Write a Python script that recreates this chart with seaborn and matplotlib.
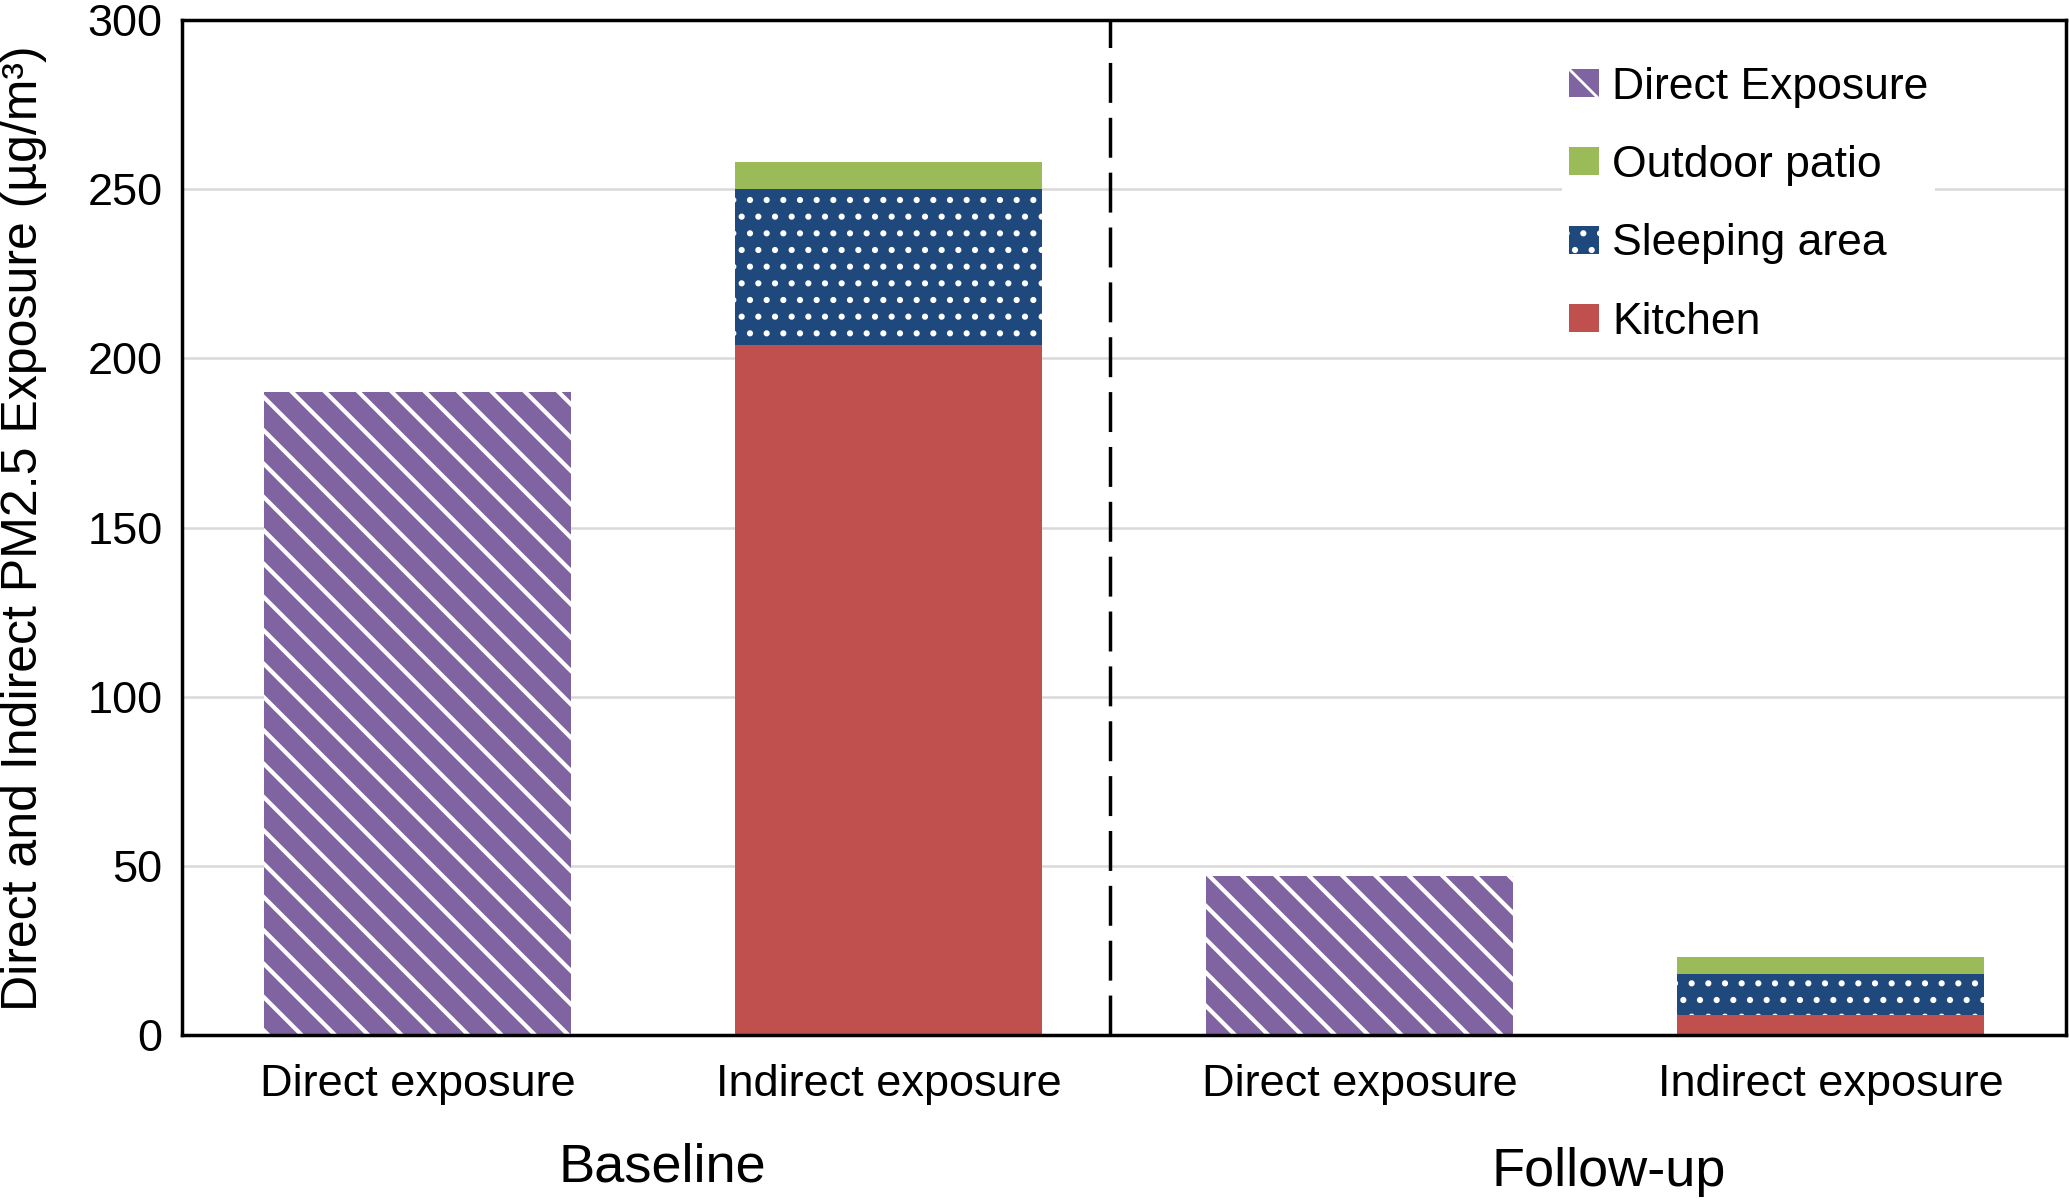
import pandas as pd
import matplotlib
matplotlib.use("Agg")
import matplotlib.pyplot as plt
import matplotlib.patches as mpatches
import seaborn as sns

# ---------------------------------------------------------------
# data (ug/m3)
bar_keys = ["base_direct", "base_indirect", "fu_direct", "fu_indirect"]
tick_labels = ["Direct exposure", "Indirect exposure", "Direct exposure", "Indirect exposure"]
group_labels = ["Baseline", "Follow-up"]

direct_keys = ["base_direct", "fu_direct"]
direct_values = [190, 47]

indirect_keys = ["base_indirect", "fu_indirect"]
kitchen = [204, 6]
sleeping_area = [46, 12]
outdoor_patio = [8, 5]

legend_labels = ["Direct Exposure", "Outdoor patio", "Sleeping area", "Kitchen"]

PURPLE = "#8064a2"
GREEN = "#9bbb59"
BLUE = "#1f497d"
RED = "#c0504d"

# ---------------------------------------------------------------
sns.set_style("white")
plt.rcParams["font.family"] = ["Liberation Sans", "DejaVu Sans"]
plt.rcParams["hatch.linewidth"] = 2.0
for key in ["text.color", "axes.labelcolor", "xtick.color", "ytick.color"]:
    plt.rcParams[key] = "black"

fig = plt.figure(figsize=(20.7, 12.03), dpi=100)
ax = fig.add_axes([182 / 2070, 1 - 1035 / 1203, 1884 / 2070, (1035 - 20) / 1203])

direct_df = pd.DataFrame({"bar": direct_keys, "value": direct_values})
stack_df = pd.DataFrame({
    "bar": indirect_keys,
    "top": [k + s + o for k, s, o in zip(kitchen, sleeping_area, outdoor_patio)],
    "mid": [k + s for k, s in zip(kitchen, sleeping_area)],
    "low": kitchen,
})

common = dict(order=bar_keys, width=0.65, saturation=1, errorbar=None, ax=ax)

# direct exposure bars (hatched)
sns.barplot(data=direct_df, x="bar", y="value", color=PURPLE,
            hatch="\\", edgecolor="white", linewidth=0, **common)
# thicker white diagonals for the direct bars
for p in ax.containers[0]:
    if hasattr(p, "set_hatch_linewidth"):
        p.set_hatch_linewidth(3.0)

# indirect exposure: stacked by drawing cumulative totals, largest first
sns.barplot(data=stack_df, x="bar", y="top", color=GREEN, linewidth=0, **common)
sns.barplot(data=stack_df, x="bar", y="mid", color=BLUE,
            hatch=".", edgecolor="white", linewidth=0, **common)
sns.barplot(data=stack_df, x="bar", y="low", color=RED, linewidth=0, **common)

ax.set_xlim(-0.5, 3.5)
ax.set_ylim(0, 300)
ax.set_yticks(range(0, 301, 50))
ax.set_xticks(range(len(bar_keys)))
ax.set_xticklabels(tick_labels)
ax.set_xlabel("")
ax.set_ylabel("")
ax.tick_params(axis="x", length=0, pad=21, labelsize=32.5)
ax.tick_params(axis="y", length=0, pad=14, labelsize=32.5)

ax.set_axisbelow(True)
ax.yaxis.grid(True, color="#d9d9d9", linewidth=1.8)
for sp in ax.spines.values():
    sp.set_visible(True)
    sp.set_color("black")
    sp.set_linewidth(2.5)

# separator between baseline and follow-up
ax.axvline(1.47, color="black", linewidth=2.5, dashes=(11.5, 4.3))

# group labels
trans = ax.get_xaxis_transform()
ax.text(0.52, -0.131, group_labels[0], transform=trans, ha="center", va="center", fontsize=39)
ax.text(2.53, -0.135, group_labels[1], transform=trans, ha="center", va="center", fontsize=39)

fig.text(24 / 2070, 1 - 528 / 1203, "Direct and Indirect PM2.5 Exposure (µg/m³)",
         rotation=90, ha="center", va="center", fontsize=36)

# legend
handles = [
    mpatches.Patch(facecolor=PURPLE, hatch="\\", edgecolor="white", linewidth=0),
    mpatches.Patch(facecolor=GREEN, linewidth=0),
    mpatches.Patch(facecolor=BLUE, hatch=".", edgecolor="white", linewidth=0),
    mpatches.Patch(facecolor=RED, linewidth=0),
]
if hasattr(handles[0], "set_hatch_linewidth"):
    handles[0].set_hatch_linewidth(3.0)
leg = ax.legend(handles, legend_labels, loc="upper left",
                bbox_to_anchor=(1562 / 2070, 1 - 60 / 1203), bbox_transform=fig.transFigure,
                fontsize=32, frameon=True, framealpha=1, facecolor="white", edgecolor="none",
                fancybox=False, borderpad=0.15, handlelength=0.68, handleheight=0.6,
                handletextpad=0.3, labelspacing=0.84, borderaxespad=0)

fig.savefig("out.png", dpi=100)
